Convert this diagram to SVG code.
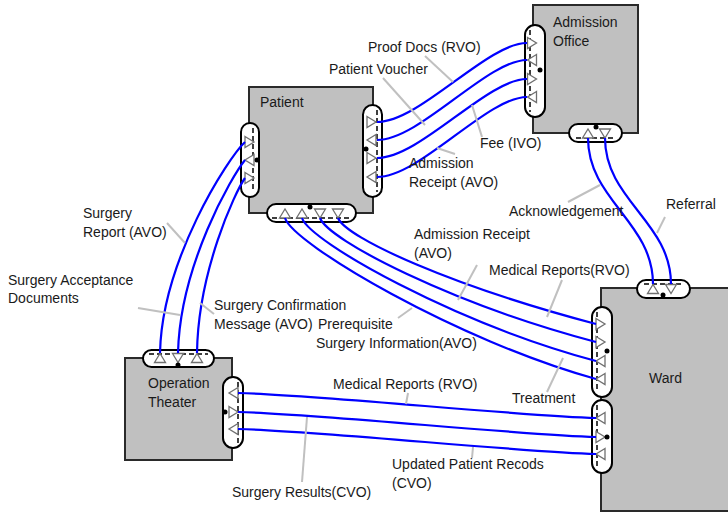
<svg xmlns="http://www.w3.org/2000/svg" width="728" height="513" viewBox="0 0 728 513">
<defs>
<style>
.box{fill:#c0c0c0;stroke:#2a2a2a;stroke-width:2}
.pill{fill:#fff;stroke:#000;stroke-width:2}
.dash{stroke:#000;stroke-width:1.5;stroke-dasharray:5,3;fill:none}
.tri{fill:#fff;stroke:#707070;stroke-width:1.3}
.dot{fill:#000}
.t{font-family:"Liberation Sans",Arial,sans-serif;font-size:14px;fill:#1a1a1a}
.c{fill:none;stroke:#0000ff;stroke-width:2.2}
.ld{stroke:#c0c0c0;stroke-width:2;fill:none}
</style>
</defs>
<rect width="728" height="513" fill="#fff"/>

<g id="patient">
<rect class="box" x="249" y="87" width="124" height="126"/>
<text class="t" x="260" y="107">Patient</text>
<rect class="pill" x="241" y="123" width="18" height="74" rx="9"/>
<line class="dash" x1="253" y1="128" x2="253" y2="192"/>
<polygon class="tri" points="245,136.5 254,142 245,147.5"/>
<polygon class="tri" points="254,154.5 245,160 254,165.5"/>
<polygon class="tri" points="245,172.5 254,178 245,183.5"/>
<circle class="dot" cx="257" cy="160" r="2.5"/>
<rect class="pill" x="363" y="105" width="19" height="92" rx="9.5"/>
<line class="dash" x1="377" y1="110" x2="377" y2="192"/>
<polygon class="tri" points="367,116.5 376,122 367,127.5"/>
<polygon class="tri" points="376,134.5 367,140 376,145.5"/>
<polygon class="tri" points="367,152.5 376,158 367,163.5"/>
<polygon class="tri" points="376,171.5 367,177 376,182.5"/>
<circle class="dot" cx="366" cy="149" r="2.5"/>
<rect class="pill" x="267" y="204" width="89" height="18" rx="9"/>
<line class="dash" x1="272" y1="218" x2="351" y2="218"/>
<polygon class="tri" points="279.5,218 285,209 290.5,218"/>
<polygon class="tri" points="296.5,218 302,209 307.5,218"/>
<polygon class="tri" points="314.5,209 320,218 325.5,209"/>
<polygon class="tri" points="332.5,209 338,218 343.5,209"/>
<circle class="dot" cx="310" cy="207" r="2.5"/>
</g>

<g id="admission-office">
<rect class="box" x="533" y="5" width="105" height="128"/>
<text class="t" x="553" y="27">Admission</text>
<text class="t" x="553" y="46">Office</text>
<rect class="pill" x="525" y="25" width="20" height="92" rx="10"/>
<line class="dash" x1="530" y1="30" x2="530" y2="112"/>
<polygon class="tri" points="527.5,37.5 536.5,43 527.5,48.5"/>
<polygon class="tri" points="536.5,54.5 527.5,60 536.5,65.5"/>
<polygon class="tri" points="527.5,73.5 536.5,79 527.5,84.5"/>
<polygon class="tri" points="536.5,91.5 527.5,97 536.5,102.5"/>
<circle class="dot" cx="540" cy="70" r="2.5"/>
<rect class="pill" x="569" y="124" width="53" height="18" rx="9"/>
<line class="dash" x1="576" y1="138" x2="615" y2="138"/>
<polygon class="tri" points="582.5,138 588,129 593.5,138"/>
<polygon class="tri" points="599.5,129 605,138 610.5,129"/>
<circle class="dot" cx="596" cy="127" r="2.5"/>
</g>

<g id="operation-theater">
<rect class="box" x="125" y="358" width="107" height="102"/>
<text class="t" x="148" y="388">Operation</text>
<text class="t" x="148" y="407">Theater</text>
<rect class="pill" x="143" y="350" width="71" height="17" rx="8.5"/>
<line class="dash" x1="149" y1="354" x2="208" y2="354"/>
<polygon class="tri" points="154.5,362.5 160,353.5 165.5,362.5"/>
<polygon class="tri" points="172.5,353.5 178,362.5 183.5,353.5"/>
<polygon class="tri" points="191.5,362.5 197,353.5 202.5,362.5"/>
<circle class="dot" cx="178" cy="365" r="2.5"/>
<rect class="pill" x="223" y="377" width="20" height="71" rx="10"/>
<line class="dash" x1="238" y1="382" x2="238" y2="443"/>
<polygon class="tri" points="238,387.5 229,393 238,398.5"/>
<polygon class="tri" points="229,406.5 238,412 229,417.5"/>
<polygon class="tri" points="238,423.5 229,429 238,434.5"/>
<circle class="dot" cx="225" cy="412" r="2.5"/>
</g>

<g id="ward">
<rect class="box" x="601" y="288" width="130" height="223"/>
<text class="t" x="649" y="383">Ward</text>
<rect class="pill" x="637" y="280" width="53" height="18" rx="9"/>
<line class="dash" x1="644" y1="284" x2="683" y2="284"/>
<polygon class="tri" points="647.5,293.5 653,284.5 658.5,293.5"/>
<polygon class="tri" points="665.5,284.5 671,293.5 676.5,284.5"/>
<circle class="dot" cx="663" cy="295" r="2.5"/>
<rect class="pill" x="592" y="307" width="20" height="90" rx="10"/>
<line class="dash" x1="597" y1="312" x2="597" y2="392"/>
<polygon class="tri" points="596,318.5 605,324 596,329.5"/>
<polygon class="tri" points="596,336.5 605,342 596,347.5"/>
<polygon class="tri" points="605,355.5 596,361 605,366.5"/>
<polygon class="tri" points="605,373.5 596,379 605,384.5"/>
<circle class="dot" cx="607" cy="351" r="2.5"/>
<rect class="pill" x="592" y="400" width="20" height="73" rx="10"/>
<line class="dash" x1="597" y1="405" x2="597" y2="468"/>
<polygon class="tri" points="605,412.5 596,418 605,423.5"/>
<polygon class="tri" points="596,431.5 605,437 596,442.5"/>
<polygon class="tri" points="605,448.5 596,454 605,459.5"/>
<circle class="dot" cx="607" cy="437" r="2.5"/>
</g>

<g id="connectors">
<path class="c" d="M377,122 C420,122 487,43 527,43"/>
<path class="c" d="M377,140 C420,140 487,60 527,60"/>
<path class="c" d="M377,158 C420,158 487,79 527,79"/>
<path class="c" d="M377,177 C420,177 487,97 527,97"/>
<path class="c" d="M338,218 C346,238 452,286 596,324"/>
<path class="c" d="M320,218 C328,240 452,304 596,342"/>
<path class="c" d="M302,218 C310,242 455,323 596,361"/>
<path class="c" d="M285,218 C293,244 458,341 596,379"/>
<path class="c" d="M238,393 C320,395 520,416 596,418"/>
<path class="c" d="M238,412 C320,414 520,435 596,437"/>
<path class="c" d="M238,429 C320,431 520,452 596,454"/>
<path class="c" d="M245,142 C228,158 162,260 160,353"/>
<path class="c" d="M245,160 C232,176 180,265 178,353"/>
<path class="c" d="M245,178 C235,192 198,272 197,353"/>
<path class="c" d="M588,138 C588,200 653,222 653,284"/>
<path class="c" d="M605,138 C605,200 671,222 671,284"/>
</g>

<g id="labels">
<line class="ld" x1="425" y1="56" x2="453" y2="82"/>
<line class="ld" x1="383" y1="78" x2="425" y2="125"/>
<line class="ld" x1="472" y1="105" x2="482" y2="137"/>
<line class="ld" x1="437" y1="148" x2="455" y2="154"/>
<line class="ld" x1="167" y1="223" x2="185" y2="243"/>
<line class="ld" x1="138" y1="308" x2="180" y2="315"/>
<line class="ld" x1="200" y1="303" x2="214" y2="314"/>
<line class="ld" x1="398" y1="318" x2="412" y2="308"/>
<line class="ld" x1="477" y1="265" x2="458" y2="300"/>
<line class="ld" x1="562" y1="280" x2="547" y2="317"/>
<line class="ld" x1="563" y1="358" x2="547" y2="392"/>
<line class="ld" x1="408" y1="393" x2="406" y2="404"/>
<line class="ld" x1="307" y1="417" x2="302" y2="482"/>
<line class="ld" x1="473" y1="447" x2="472" y2="458"/>
<line class="ld" x1="600" y1="185" x2="568" y2="202"/>
<line class="ld" x1="665" y1="217" x2="657" y2="233"/>
<text class="t" x="368" y="52">Proof Docs (RVO)</text>
<text class="t" x="329" y="74">Patient Voucher</text>
<text class="t" x="480" y="148">Fee (IVO)</text>
<text class="t" x="409" y="168">Admission</text>
<text class="t" x="409" y="187">Receipt (AVO)</text>
<text class="t" x="83" y="218">Surgery</text>
<text class="t" x="83" y="237">Report (AVO)</text>
<text class="t" x="8" y="285">Surgery Acceptance</text>
<text class="t" x="8" y="303">Documents</text>
<text class="t" x="214" y="310">Surgery Confirmation</text>
<text class="t" x="214" y="329">Message (AVO)</text>
<text class="t" x="318" y="329">Prerequisite</text>
<text class="t" x="316" y="348">Surgery Information(AVO)</text>
<text class="t" x="414" y="239">Admission Receipt</text>
<text class="t" x="414" y="258">(AVO)</text>
<text class="t" x="489" y="275">Medical Reports(RVO)</text>
<text class="t" x="512" y="403">Treatment</text>
<text class="t" x="333" y="389">Medical Reports (RVO)</text>
<text class="t" x="392" y="469">Updated Patient Recods</text>
<text class="t" x="392" y="488">(CVO)</text>
<text class="t" x="232" y="497">Surgery Results(CVO)</text>
<text class="t" x="509" y="216">Acknowledgement</text>
<text class="t" x="666" y="209">Referral</text>
</g>
</svg>
